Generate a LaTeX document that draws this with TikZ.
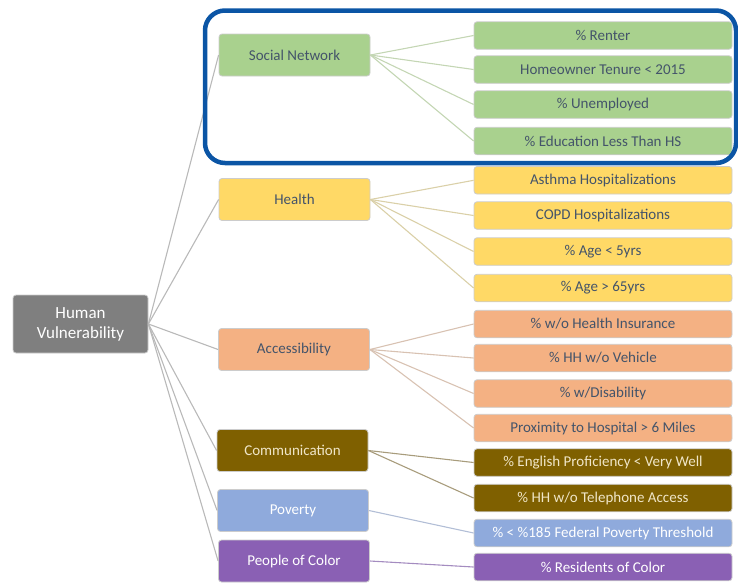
\documentclass[tikz,border=0pt]{standalone}
\usepackage{fontspec}
\setmainfont{Carlito}
\usetikzlibrary{positioning}

\definecolor{rootgray}{HTML}{7F7F7F}
\definecolor{slate}{HTML}{44546A}
\definecolor{snfill}{HTML}{A9D18E}
\definecolor{hfill}{HTML}{FFD966}
\definecolor{accfill}{HTML}{F4B183}
\definecolor{comfill}{HTML}{7F6000}
\definecolor{comtext}{HTML}{F0E6C8}
\definecolor{povfill}{HTML}{8FAADC}
\definecolor{pocfill}{HTML}{8A60B4}
\definecolor{hiblue}{HTML}{0B55A5}
% link colours
\definecolor{snlink}{HTML}{C4D6B4}
\definecolor{hlink}{HTML}{DAD0A8}
\definecolor{acclink}{HTML}{D8C2B2}
\definecolor{comlink}{HTML}{A89C7C}
\definecolor{povlink}{HTML}{B2BED6}
\definecolor{poclink}{HTML}{A48CC0}

\begin{document}
\begin{tikzpicture}[
    x=1pt, y=-1pt,
    font=\fontsize{15}{18}\selectfont,
    box/.style={draw=gray!40, line width=0.8pt, rounded corners=3pt, inner sep=0pt,
                align=center, text=slate},
    rootbox/.style={box, fill=rootgray, text=white, minimum width=135pt, minimum height=58pt,
                    font=\fontsize{17}{20}\selectfont},
    cat/.style={box, minimum width=151pt, minimum height=42pt},
    ind/.style={box, minimum width=258pt, minimum height=27.5pt},
    link/.style={line width=1.1pt, gray!55},
    hilite/.style={draw=hiblue, line width=4.5pt, rounded corners=20pt},
]
    \useasboundingbox (0,0) rectangle (738,582);

    %==================== ROOT ====================
    \node[rootbox] (hv) at (80.5,324) {Human\\Vulnerability};

    %==================== CATEGORIES ====================
    \node[cat, fill=snfill] (sn) at (294.5,55) {Social Network};
    \node[cat, fill=hfill] (health) at (294.5,199.5) {Health};
    \node[cat, fill=accfill] (access) at (294,349.5) {Accessibility};
    \node[cat, fill=comfill, text=comtext] (comm) at (292.5,450.5) {Communication};
    \node[cat, fill=povfill, text=white] (pov) at (293,510.5) {Poverty};
    \node[cat, fill=pocfill, text=white] (poc) at (294,561) {People of Color};

    \draw[link] (hv.east) -- (sn.west);
    \draw[link] (hv.east) -- (health.west);
    \draw[link] (hv.east) -- (access.west);
    \draw[link] (hv.east) -- (comm.west);
    \draw[link] (hv.east) -- (pov.west);
    \draw[link] (hv.east) -- (poc.west);

    %==================== INDICATORS ====================
    \node[ind, fill=snfill] (renter) at (603,35.5) {\% Renter};
    \node[ind, fill=snfill] (tenure) at (603,69.5) {Homeowner Tenure < 2015};
    \node[ind, fill=snfill] (unemp) at (603,104.5) {\% Unemployed};
    \node[ind, fill=snfill] (educ) at (603,141) {\% Education Less Than HS};

    \node[ind, fill=hfill] (asthma) at (603,180.3) {Asthma Hospitalizations};
    \node[ind, fill=hfill] (copd) at (603,215.5) {COPD Hospitalizations};
    \node[ind, fill=hfill] (young) at (603,251.5) {\% Age < 5yrs};
    \node[ind, fill=hfill] (old) at (603,288) {\% Age > 65yrs};

    \node[ind, fill=accfill] (insur) at (603,324) {\% w/o Health Insurance};
    \node[ind, fill=accfill] (vehicle) at (603,358) {\% HH w/o Vehicle};
    \node[ind, fill=accfill] (disab) at (603,393.5) {\% w/Disability};
    \node[ind, fill=accfill] (hosp) at (603,428) {Proximity to Hospital > 6 Miles};

    \node[ind, fill=comfill, text=comtext] (english) at (603,462.5) {\% English Proficiency < Very Well};
    \node[ind, fill=comfill, text=comtext] (phone) at (603,498) {\% HH w/o Telephone Access};

    \node[ind, fill=povfill, text=white] (fpt) at (603,533) {\% < \%185 Federal Poverty Threshold};
    \node[ind, fill=pocfill, text=white] (roc) at (603,567) {\% Residents of Color};

    % links per category
    \draw[link, snlink] (sn.east) -- (renter.west);
    \draw[link, snlink] (sn.east) -- (tenure.west);
    \draw[link, snlink] (sn.east) -- (unemp.west);
    \draw[link, snlink] (sn.east) -- (educ.west);

    \draw[link, hlink] (health.east) -- (asthma.west);
    \draw[link, hlink] (health.east) -- (copd.west);
    \draw[link, hlink] (health.east) -- (young.west);
    \draw[link, hlink] (health.east) -- (old.west);

    \draw[link, acclink] (access.east) -- (insur.west);
    \draw[link, acclink] (access.east) -- (vehicle.west);
    \draw[link, acclink] (access.east) -- (disab.west);
    \draw[link, acclink] (access.east) -- (hosp.west);

    \draw[link, comlink] (comm.east) -- (english.west);
    \draw[link, comlink] (comm.east) -- (phone.west);

    \draw[link, povlink] (pov.east) -- (fpt.west);
    \draw[link, poclink] (poc.east) -- (roc.west);

    %==================== HIGHLIGHT ====================
    \draw[hilite] (205,10.5) rectangle (736,163);

\end{tikzpicture}
\end{document}
